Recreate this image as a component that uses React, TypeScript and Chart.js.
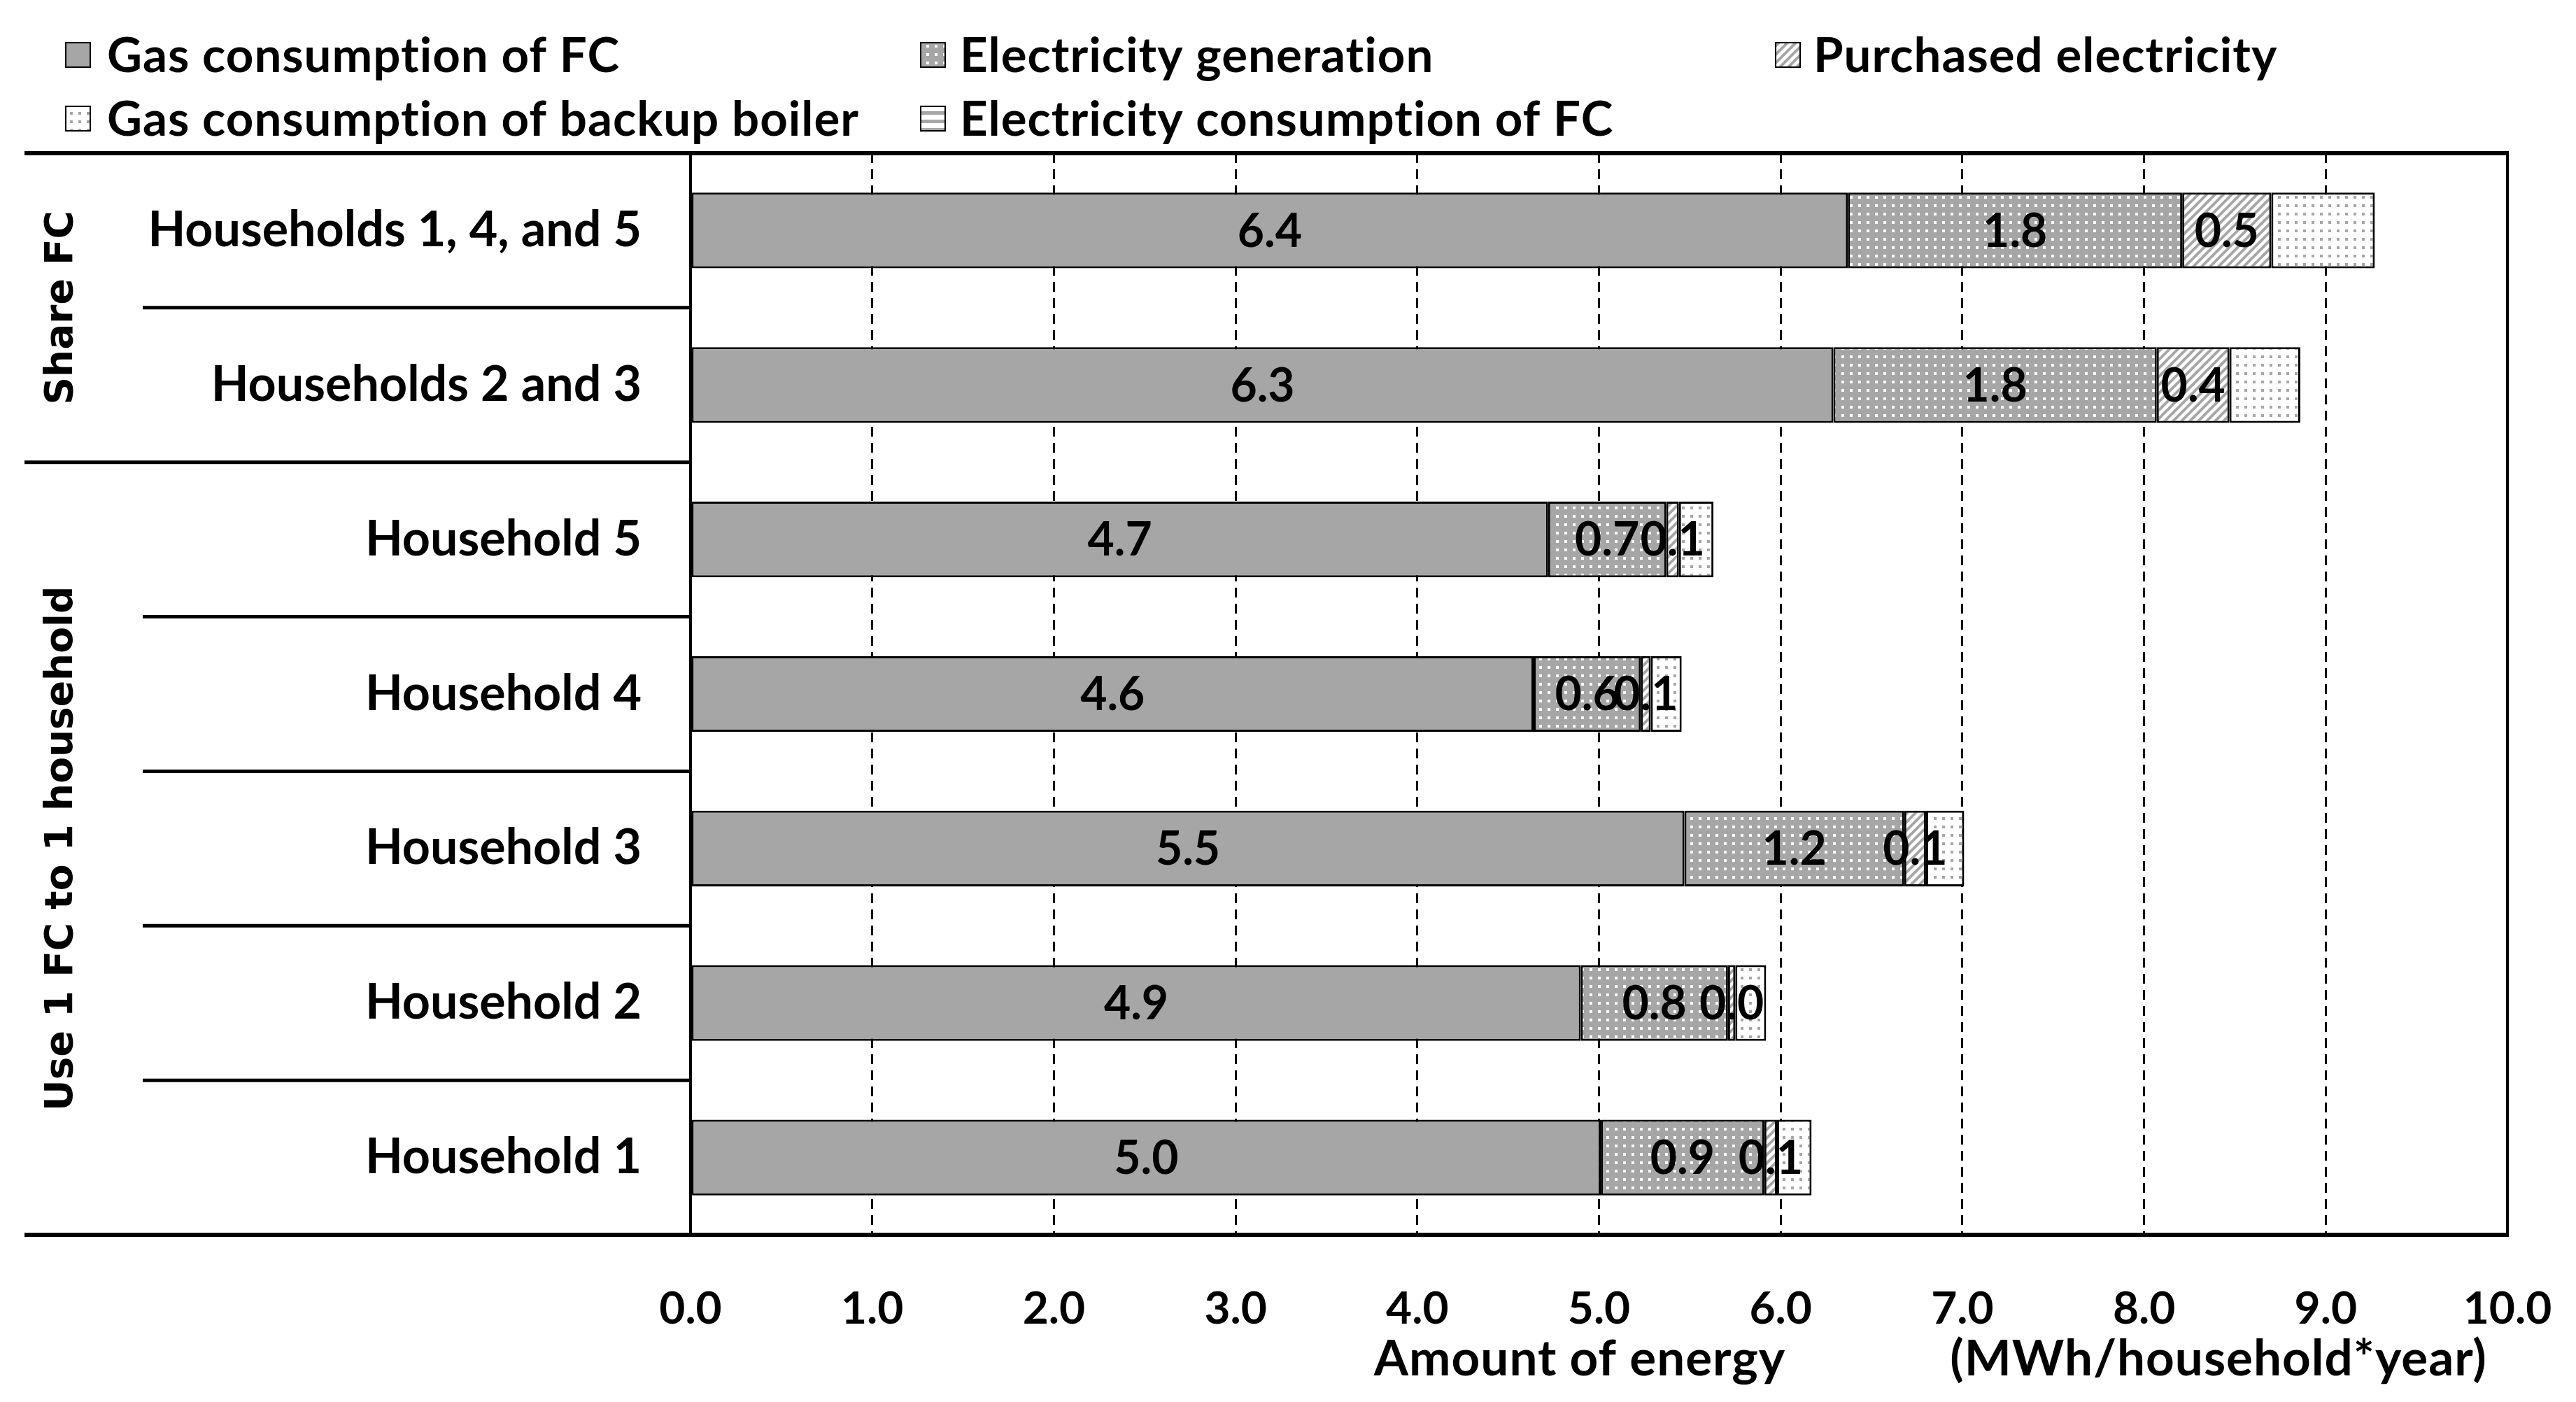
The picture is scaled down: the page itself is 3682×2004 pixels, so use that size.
import React, { useEffect, useRef } from "react";
import { Chart, registerables } from "chart.js";

Chart.register(...registerables);

// ---------- data ----------
const categories = [
  "Households 1, 4, and 5",
  "Households 2 and 3",
  "Household 5",
  "Household 4",
  "Household 3",
  "Household 2",
  "Household 1",
];
const seriesNames = [
  "Gas consumption of FC",
  "Electricity generation",
  "Purchased electricity",
  "Gas consumption of backup boiler",
  "Electricity consumption of FC",
];
const gasFC = [6.37, 6.29, 4.72, 4.64, 5.47, 4.9, 5.01];
const elecGen = [1.84, 1.78, 0.65, 0.59, 1.21, 0.81, 0.9];
const purchased = [0.49, 0.4, 0.07, 0.055, 0.12, 0.04, 0.07];
const backupBoiler = [0.57, 0.39, 0.19, 0.17, 0.21, 0.17, 0.19];
const elecConsFC = [0, 0, 0, 0, 0, 0, 0];
const labelledSeries = [0, 1, 2];
const groupNames = ["Share FC", "Use 1 FC to 1 household"];
const groupSizes = [2, 5];
const xMin = 0;
const xMax = 10;
const xStep = 1;
const axisTitleLeft = "Amount of energy";
const axisTitleRight = "(MWh/household*year)";

// ---------- styling ----------
const W = 3682;
const H = 2004;
const GRAY = "#A6A6A6";
const LABEL_FONT = "Lato";
const GROUP_FONT = "'DejaVu Sans'";

function tile(draw: (c: CanvasRenderingContext2D) => void, size = 12): CanvasPattern | string {
  const cv = document.createElement("canvas");
  cv.width = size;
  cv.height = size;
  const c = cv.getContext("2d");
  if (!c) return GRAY;
  draw(c);
  const p = c.createPattern(cv, "repeat");
  return p || GRAY;
}

function makeFills() {
  const solid = GRAY;
  const dense = tile((c) => {
    c.fillStyle = GRAY;
    c.fillRect(0, 0, 12, 12);
    c.fillStyle = "#fff";
    c.fillRect(4, 4, 4, 4);
  });
  const diag = tile((c) => {
    c.fillStyle = "#fff";
    c.fillRect(0, 0, 12, 12);
    c.strokeStyle = GRAY;
    c.lineWidth = 4;
    c.beginPath();
    c.moveTo(-2, 14);
    c.lineTo(14, -2);
    c.moveTo(-8, 8);
    c.lineTo(8, -8);
    c.moveTo(4, 20);
    c.lineTo(20, 4);
    c.stroke();
  });
  const sparse = tile((c) => {
    c.fillStyle = "#fff";
    c.fillRect(0, 0, 12, 12);
    c.fillStyle = GRAY;
    c.fillRect(4, 4, 4, 4);
  });
  const stripes = tile((c) => {
    c.fillStyle = "#fff";
    c.fillRect(0, 0, 12, 12);
    c.fillStyle = GRAY;
    c.fillRect(0, 3, 12, 5);
  });
  return [solid, dense, diag, sparse, stripes];
}

export default function App() {
  const ref = useRef<HTMLCanvasElement | null>(null);

  useEffect(() => {
    document.body.style.margin = "0";
    document.body.style.overflow = "hidden";
    const canvas = ref.current;
    if (!canvas) return;
    const fills = makeFills();
    const values = [gasFC, elecGen, purchased, backupBoiler, elecConsFC];

    const overlay = {
      id: "overlay",
      afterDatasetsDraw(chart: any) {
        const ctx = chart.ctx as CanvasRenderingContext2D;
        ctx.save();
        ctx.fillStyle = "#000";
        ctx.font = `bold 66px ${LABEL_FONT}`;
        ctx.textAlign = "center";
        ctx.textBaseline = "middle";
        labelledSeries.forEach((di) => {
          const meta = chart.getDatasetMeta(di);
          meta.data.forEach((bar: any, j: number) => {
            const p = bar.getProps(["x", "base", "y"], true);
            const v = values[di][j];
            ctx.fillText(v.toFixed(1), (p.x + p.base) / 2, p.y + 2);
          });
        });
        ctx.restore();
      },
      afterDraw(chart: any) {
        const ctx = chart.ctx as CanvasRenderingContext2D;
        const a = chart.chartArea;
        const ys = chart.scales.y;
        ctx.save();
        ctx.strokeStyle = "#000";
        ctx.lineCap = "butt";
        const line = (x1: number, y1: number, x2: number, y2: number, w: number) => {
          ctx.lineWidth = w;
          ctx.beginPath();
          ctx.moveTo(x1, y1);
          ctx.lineTo(x2, y2);
          ctx.stroke();
        };
        const farLeft = 35;
        const innerLeft = 204;
        // frame
        line(farLeft, a.top, a.right + 2, a.top, 6);
        line(farLeft, a.bottom, a.right + 2, a.bottom, 6);
        line(a.right, a.top, a.right, a.bottom, 4);
        line(a.left, a.top, a.left, a.bottom, 4);
        // separators
        let idx = 0;
        const groupBounds: number[][] = [];
        groupSizes.forEach((size) => {
          const start = idx;
          const end = idx + size - 1;
          for (let i = start; i < end; i++) {
            const yy = (ys.getPixelForValue(i) + ys.getPixelForValue(i + 1)) / 2;
            line(innerLeft, yy, a.left, yy, 5);
          }
          const top = start === 0 ? a.top : (ys.getPixelForValue(start - 1) + ys.getPixelForValue(start)) / 2;
          const bottom = end === categories.length - 1 ? a.bottom : (ys.getPixelForValue(end) + ys.getPixelForValue(end + 1)) / 2;
          if (end < categories.length - 1) line(farLeft, bottom, a.left, bottom, 5);
          groupBounds.push([top, bottom]);
          idx += size;
        });
        // group labels
        ctx.fillStyle = "#000";
        ctx.font = `bold 55px ${GROUP_FONT}`;
        ctx.textAlign = "center";
        ctx.textBaseline = "middle";
        groupBounds.forEach(([t, b], g) => {
          ctx.save();
          ctx.translate(89, (t + b) / 2);
          ctx.rotate(-Math.PI / 2);
          ctx.fillText(groupNames[g], 0, 0);
          ctx.restore();
        });
        // axis titles
        (ctx as any).letterSpacing = "1px";
        ctx.font = `bold 71px ${LABEL_FONT}`;
        ctx.textBaseline = "middle";
        ctx.textAlign = "center";
        ctx.fillText(axisTitleLeft, 2258, 1943);
        ctx.fillText(axisTitleRight, 3171, 1943);
        // legend
        const boxX = [94, 1316, 2538];
        const textX = [153, 1372, 2592];
        const rowY = [78, 169];
        ctx.font = `bold 69px ${LABEL_FONT}`;
        ctx.textAlign = "left";
        seriesNames.forEach((name, i) => {
          const col = i % 3;
          const row = Math.floor(i / 3);
          const bx = boxX[col];
          const by = rowY[row] - 17;
          ctx.fillStyle = fills[i] as any;
          ctx.fillRect(bx, by, 35, 35);
          ctx.lineWidth = 2;
          ctx.strokeStyle = "#000";
          ctx.strokeRect(bx, by, 35, 35);
          ctx.fillStyle = "#000";
          ctx.fillText(name, textX[col], rowY[row] + 3);
        });
        ctx.restore();
      },
    };

    const chart = new Chart(canvas, {
      type: "bar",
      data: {
        labels: categories,
        datasets: seriesNames.map((name, i) => ({
          label: name,
          data: values[i],
          backgroundColor: fills[i] as any,
          borderColor: "#000",
          borderWidth: 3,
          borderSkipped: false,
          barPercentage: 0.49,
          categoryPercentage: 1,
        })),
      },
      options: {
        indexAxis: "y",
        responsive: false,
        animation: false,
        devicePixelRatio: 1,
        layout: { padding: { top: 219, right: 98, left: 0, bottom: 0 } },
        plugins: {
          legend: { display: false },
          tooltip: { enabled: false },
          title: { display: false },
        },
        scales: {
          x: {
            stacked: true,
            min: xMin,
            max: xMax,
            ticks: {
              stepSize: xStep,
              callback: (v: any) => Number(v).toFixed(1),
              font: { family: LABEL_FONT, weight: "bold", size: 64 },
              color: "#000",
              padding: 68,
            },
            grid: {
              color: (c: any) =>
                c.tick && (c.tick.value === xMin || c.tick.value === xMax) ? "rgba(0,0,0,0)" : "#000",
              lineWidth: 3,
              drawTicks: false,
            },
            border: { display: false, dash: [14, 9] },
            afterFit: (s: any) => {
              s.height = 239;
              s.paddingLeft = 0;
              s.paddingRight = 0;
            },
          },
          y: {
            stacked: true,
            ticks: {
              font: { family: LABEL_FONT, weight: "bold", size: 70 },
              color: "#000",
              padding: 70,
            },
            grid: { display: false, drawTicks: false },
            border: { display: false },
            afterFit: (s: any) => {
              s.width = 987;
            },
          },
        },
      },
      plugins: [overlay],
    });

    return () => {
      chart.destroy();
    };
  }, []);

  return (
    <div style={{ width: W, height: H, background: "#fff" }}>
      <canvas ref={ref} width={W} height={H} style={{ display: "block" }} />
    </div>
  );
}
